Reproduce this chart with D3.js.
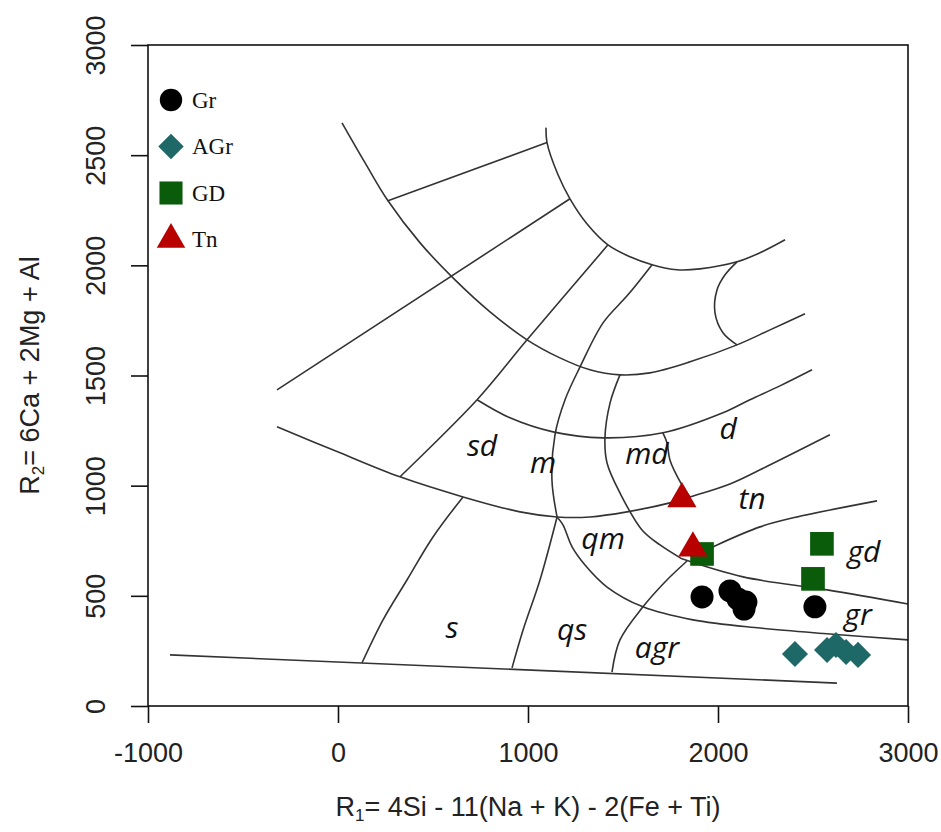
<!DOCTYPE html>
<html><head><meta charset="utf-8">
<script src="https://cdn.jsdelivr.net/npm/d3@7"></script>
<style>body{margin:0;background:#fff}</style>
</head><body>
<svg id="chart" width="941" height="832"></svg>
<script>
// ---- axes ----
const xTicks = [-1000, 0, 1000, 2000, 3000];
const yTicks = [0, 500, 1000, 1500, 2000, 2500, 3000];
const xDomain = [-1000, 3000];
const yDomain = [0, 3000];

// ---- classification boundaries (R1, R2) ----
const arcOuter = [[21,2647],[142,2466],[263,2293],[432,2102],[616,1934],[800,1789],[995,1662],[1168,1580],[1326,1526],[1484,1503],[1642,1512],[1853,1562],[2100,1639],[2274,1707],[2458,1780]];
const arcInner = [[1095,2625],[1100,2557],[1158,2411],[1221,2302],[1310,2189],[1421,2093],[1537,2039],[1653,2003],[1784,1980],[1905,1984],[2100,2016],[2221,2057],[2353,2116]];
const topLink = [[263,2293],[1100,2557]];
const leftRay = [[-321,1435],[1221,2302]];
const sdRay = [[1421,2093],[995,1662],[732,1390],[326,1040]];
const mLine = [[1653,2003],[1526,1866],[1395,1739],[1274,1539],[1195,1390],[1142,1231],[1126,1026],[1153,858]];
const qsLine = [[1153,858],[1063,572],[974,345],[916,173]];
const mdLine = [[1484,1503],[1432,1376],[1405,1217],[1416,1103],[1484,967],[1600,799],[1695,731],[1810,668]];
const dCurve = [[2100,2016],[2037,1957],[1995,1889],[1984,1785],[2026,1694],[2100,1639]];
const arcMid = [[732,1390],[905,1308],[1132,1244],[1395,1217],[1710,1240],[2026,1331],[2168,1390],[2326,1453],[2495,1526]];
const mddLine = [[1710,1240],[1732,1194],[1747,1117],[1810,1004],[1853,949]];
const arcLow = [[-321,1267],[11,1149],[326,1040],[658,949],[958,881],[1153,858],[1326,858],[1521,881],[1747,922],[1853,949],[2063,1008],[2221,1072],[2589,1231]];
const sLine = [[658,949],[500,767],[363,572],[237,391],[126,195]];
const baseLine = [[-884,232],[2626,104]];
const agrCurve = [[1153,858],[1184,822],[1232,722],[1300,640],[1416,540],[1605,450],[1868,391],[2221,354],[2589,327],[3000,300]];
const agrLine = [[1837,658],[1721,563],[1605,450],[1484,300],[1442,154]];
const grLine = [[1810,668],[2132,586],[2574,527],[3000,463]];
const gdLine = [[1889,686],[1995,731],[2221,813],[2395,854],[2837,931]];

const curvedBoundaries = [arcOuter, arcInner, sdRay, mLine, qsLine, mdLine, dCurve, arcMid, mddLine, arcLow, sLine, agrCurve, agrLine, grLine, gdLine];
const straightBoundaries = [topLink, leftRay, baseLine];

// ---- field names ----
const fieldNames = ["sd","m","md","d","tn","qm","gd","s","qs","agr","gr"];
const fieldR1 = [758,1079,1626,2053,2179,1395,2768,600,1232,1679,2737];
const fieldR2 = [1185,1108,1149,1262,945,763,708,359,354,272,418];

// ---- samples ----
const categories = ["Gr","AGr","GD","Tn"];
const grR1 = [1916,2063,2105,2147,2137,2510];
const grR2 = [495,522,486,472,440,450];
const agrR1 = [2405,2574,2621,2674,2737];
const agrR2 = [236,254,277,245,232];
const gdR1 = [1916,2547,2500];
const gdR2 = [690,736,577];
const tnR1 = [1810,1868];
const tnR2 = [940,717];

const colors = {Gr:"#000000", AGr:"#1e6868", GD:"#0a5c0a", Tn:"#b80000"};

const svg = d3.select("#chart");
const W = 941, H = 832;
const m = {l:148, r:33, t:45, b:126};
const x = d3.scaleLinear().domain(xDomain).range([m.l, W - m.r]);
const y = d3.scaleLinear().domain(yDomain).range([H - m.b, m.t]);

const sansFont = "'Liberation Sans', Arial, sans-serif";

// boundaries
const lineC = d3.line().x(d => x(d[0])).y(d => y(d[1])).curve(d3.curveCatmullRom.alpha(0.5));
const lineS = d3.line().x(d => x(d[0])).y(d => y(d[1]));
const g = svg.append("g");
curvedBoundaries.forEach(pts => g.append("path").attr("d", lineC(pts))
  .attr("fill","none").attr("stroke","#333").attr("stroke-width",1.6));
straightBoundaries.forEach(pts => g.append("path").attr("d", lineS(pts))
  .attr("fill","none").attr("stroke","#333").attr("stroke-width",1.6));

// field labels
svg.append("g").selectAll("text").data(fieldNames).join("text")
  .attr("x", (d,i) => x(fieldR1[i])).attr("y", (d,i) => y(fieldR2[i]))
  .attr("text-anchor","middle").attr("dominant-baseline","central")
  .attr("font-family","'Open Sans', 'Noto Sans', sans-serif").attr("font-style","italic")
  .attr("font-size",30).attr("fill","#111").text(d => d);

// frame + axes
svg.append("rect").attr("x", x(-1000)).attr("y", y(3000))
  .attr("width", x(3000)-x(-1000)).attr("height", y(0)-y(3000))
  .attr("fill","none").attr("stroke","#111").attr("stroke-width",1.6);

const xAxis = svg.append("g").attr("transform", `translate(0,${y(0)})`)
  .call(d3.axisBottom(x).tickValues(xTicks).tickSize(17).tickPadding(20).tickFormat(d => String(d)));
xAxis.select(".domain").remove();
xAxis.selectAll("line").attr("stroke","#111").attr("stroke-width",1.6);
xAxis.selectAll("text").attr("font-family", sansFont).attr("font-size",27).attr("fill","#222");

const yAxis = svg.append("g").attr("transform", `translate(${x(-1000)},0)`)
  .call(d3.axisLeft(y).tickValues(yTicks).tickSize(17).tickFormat(d => String(d)));
yAxis.select(".domain").remove();
yAxis.selectAll("line").attr("stroke","#111").attr("stroke-width",1.6);
yAxis.selectAll("text").attr("font-family", sansFont).attr("font-size",27).attr("fill","#222")
  .attr("x",0).attr("dy",0).attr("text-anchor","middle").attr("transform","translate(-43,0) rotate(-90)");

// axis titles
const xt = svg.append("text").attr("x", (x(-1000)+x(3000))/2).attr("y", 816)
  .attr("text-anchor","middle").attr("font-family", sansFont).attr("font-size",27).attr("fill","#222");
xt.append("tspan").text("R");
xt.append("tspan").text("1").attr("font-size",17).attr("dy",5);
xt.append("tspan").text("= 4Si - 11(Na + K) - 2(Fe + Ti)").attr("dy",-5);

const yt = svg.append("text").attr("transform", `translate(39,${(y(0)+y(3000))/2}) rotate(-90)`)
  .attr("text-anchor","middle").attr("font-family", sansFont).attr("font-size",27).attr("fill","#222");
yt.append("tspan").text("R");
yt.append("tspan").text("2").attr("font-size",17).attr("dy",5);
yt.append("tspan").text("= 6Ca + 2Mg + Al").attr("dy",-5);

// symbols
const symDefs = {
  Gr: {type: d3.symbolCircle, size: 415, rot: 0},
  AGr: {type: d3.symbolSquare, size: 340, rot: 45},
  GD: {type: d3.symbolSquare, size: 560, rot: 0},
  Tn: {type: d3.symbolTriangle, size: 370, rot: 0}
};
const series = [
  {name:"Gr", r1:grR1, r2:grR2},
  {name:"AGr", r1:agrR1, r2:agrR2},
  {name:"GD", r1:gdR1, r2:gdR2},
  {name:"Tn", r1:tnR1, r2:tnR2}
];
series.forEach(s => {
  const def = symDefs[s.name];
  svg.append("g").selectAll("path").data(s.r1).join("path")
    .attr("d", d3.symbol().type(def.type).size(def.size)())
    .attr("transform", (d,i) => `translate(${x(d)},${y(s.r2[i])}) rotate(${def.rot})`)
    .attr("fill", colors[s.name]);
});

// legend
const leg = svg.append("g");
categories.forEach((c,i) => {
  const def = symDefs[c];
  const cy = 100 + i*46.5;
  leg.append("path").attr("d", d3.symbol().type(def.type).size(def.size*0.95)())
    .attr("transform", `translate(171,${cy}) rotate(${def.rot})`).attr("fill", colors[c]);
  leg.append("text").attr("x", 192).attr("y", cy).attr("dominant-baseline","central")
    .attr("font-family","'Liberation Serif', 'Times New Roman', serif").attr("font-size",23)
    .attr("fill","#111").text(c);
});
</script>
</body></html>
